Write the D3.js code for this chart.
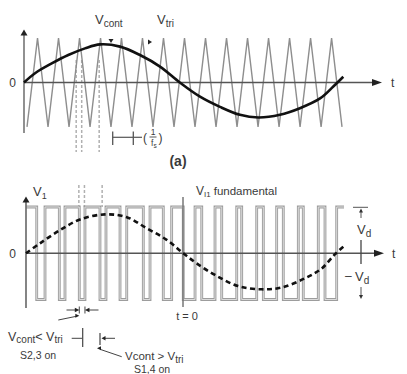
<!DOCTYPE html>
<html><head><meta charset="utf-8">
<script src="https://cdn.jsdelivr.net/npm/d3@7"></script>
<style>
body{margin:0;background:#fff}
svg{display:block}
text{font-family:"Liberation Sans",Arial,Helvetica,sans-serif;fill:#3a3a3a}
</style>
</head><body>
<script>
// ---------- data (angles in degrees of the fundamental) ----------
// triangular carrier vertices (top panel)
const carrierT = [3.5,15.7,27.9,40.1,52.3,64.5,76.7,88.9,101.0,113.2,125.4,137.6,149.8,162.0,174.2,186.4,198.6,210.8,223.0,235.2,247.4,259.6,271.8,284.0,296.2,308.4,320.6,332.8,345.0,357.2,369.3];
const carrierV = [-1,1,-1,1,-1,1,-1,1,-1,1,-1,1,-1,1,-1,1,-1,1,-1,1,-1,1,-1,1,-1,1,-1,1,-1,1,-1];
// control signal (top panel)
const controlT = [0,12.8,32.2,51.4,70.8,88.3,111.5,134.7,157.9,181,204.4,227.6,250.8,272.1,297.2,320.4,343.8,359.2,370.8];
const controlV = [0,0.21,0.43,0.62,0.77,0.86,0.81,0.62,0.36,0,-0.32,-0.55,-0.73,-0.79,-0.73,-0.58,-0.36,-0.09,0.13];
// fundamental of the output (bottom panel)
const fundT = [0,16.1,39.0,61.9,90.6,115.5,138.4,161.3,180.3,195.7,216.7,243.1,270.2,293.2,319.9,339.0,354.3,363.8];
const fundV = [0,0.215,0.50,0.73,0.84,0.78,0.54,0.29,0,-0.22,-0.47,-0.71,-0.78,-0.74,-0.54,-0.33,-0.02,0.14];
// switching instants of the PWM output (starts at +Vd)
const pwmEdges = [12.3,21.8,38.2,44.7,61.1,67.6,84.8,91.7,107.8,115.5,134.5,142.2,157.4,167.0,180.3,193.8,201.5,216.7,224.4,241.6,247.3,264.5,272.1,287.4,295.0,312.2,317.9,335.1,342.8,356.2];
const pwmStart = 1;
const pwmEnd = 364.6;
// dashed guide instants
const guideT = [60.6, 67.0, 87.3];
const tZero = 180;

// ---------- setup ----------
const svg = d3.select("body").append("svg").attr("width",407).attr("height",374);
const xTop = d3.scaleLinear().domain([0,360]).range([24,334]);
const yTop = d3.scaleLinear().domain([-1,1]).range([126.8,38.2]);
const xBot = d3.scaleLinear().domain([0,360]).range([26,340]);
const yBot = d3.scaleLinear().domain([-1,1]).range([299.5,207]);

function head(x,y,dir,len,half,color){
  let p;
  if(dir==="up") p=[[x,y],[x-half,y+len],[x+half,y+len]];
  else if(dir==="down") p=[[x,y],[x-half,y-len],[x+half,y-len]];
  else if(dir==="right") p=[[x,y],[x-len,y-half],[x-len,y+half]];
  else p=[[x,y],[x+len,y-half],[x+len,y+half]];
  svg.append("path").attr("d","M"+p.map(d=>d.join(",")).join("L")+"Z").attr("fill",color||"#222");
}
function line(x1,y1,x2,y2,color,w,dash){
  const l=svg.append("line").attr("x1",x1).attr("y1",y1).attr("x2",x2).attr("y2",y2)
    .attr("stroke",color||"#333").attr("stroke-width",w||1);
  if(dash) l.attr("stroke-dasharray",dash);
  return l;
}
function sub(x,y,main,s,size,ssize,anchor){
  const t=svg.append("text").attr("x",x).attr("y",y).attr("font-size",size);
  if(anchor) t.attr("text-anchor",anchor);
  t.append("tspan").text(main);
  t.append("tspan").attr("font-size",ssize).attr("dy",2.5).text(s);
  return t;
}

// ---------- top panel (a) ----------
// guide dashed lines
guideT.forEach(t=>line(xTop(t),60,xTop(t),152,"#b0b0b0",1.5,"3,2"));
// carrier
svg.append("path")
  .attr("d", d3.line().x((d,i)=>xTop(carrierT[i])).y((d,i)=>yTop(carrierV[i]))(carrierT))
  .attr("fill","none").attr("stroke","#8e8e8e").attr("stroke-width",1.4);
// axes
line(24,35,24,133,"#555",1.3);
head(24,29.5,"up",6,3.5,"#222");
line(24,82.5,373,82.5,"#555",1.3);
head(382,82.5,"right",10,3.5,"#222");
// control signal
svg.append("path")
  .attr("d", d3.line().curve(d3.curveCatmullRom.alpha(0.5)).x((d,i)=>xTop(controlT[i])).y((d,i)=>yTop(controlV[i]))(controlT))
  .attr("fill","none").attr("stroke","#111").attr("stroke-width",2.6);
// labels
svg.append("text").attr("x",12.5).attr("y",87).attr("font-size",12).attr("text-anchor","middle").text("0");
svg.append("text").attr("x",391).attr("y",86.5).attr("font-size",12).text("t");
sub(95,24,"V","cont",13,10);
sub(157,24,"V","tri",13,10);
head(111,43,"down",4,2.5,"#222");
head(152,42,"right",4,2.5,"#222");
// 1/fs bar
line(112.7,131.5,112.7,145,"#555",1.3);
line(133.3,131.5,133.3,145,"#555",1.3);
line(112.7,137.3,142,137.3,"#555",1.2);
svg.append("text").attr("x",143).attr("y",142).attr("font-size",12).text("(");
svg.append("text").attr("x",153).attr("y",135).attr("font-size",8.5).attr("text-anchor","middle").text("1");
line(149.5,137,156.5,137,"#444",0.9);
const fs = svg.append("text").attr("x",151).attr("y",145.5).attr("font-size",8.5);
fs.append("tspan").text("f");
fs.append("tspan").attr("font-size",6.5).attr("dy",2).text("s");
svg.append("text").attr("x",158.5).attr("y",142).attr("font-size",12).text(")");
svg.append("text").attr("x",178).attr("y",166).attr("font-size",14).attr("font-weight","bold")
  .attr("text-anchor","middle").text("(a)");

// ---------- bottom panel ----------
guideT.forEach(t=>line(xBot(t),185,xBot(t),207,"#b0b0b0",1.5,"3,2"));
// pwm waveform
const pts=[[0,pwmStart]]; let lev=pwmStart;
pwmEdges.forEach(e=>{pts.push([e,lev]); lev=-lev; pts.push([e,lev]);});
pts.push([pwmEnd,lev]);
const pwmLine = d3.line().x(d=>xBot(d[0])).y(d=>yBot(d[1]));
svg.append("path").attr("d",pwmLine(pts)).attr("fill","none").attr("stroke","#9d9d9d").attr("stroke-width",2.8);
svg.append("path").attr("d",pwmLine(pts)).attr("fill","none").attr("stroke","#e2e2e2").attr("stroke-width",0.9);
// axes
line(26,202,26,308,"#666",1.6);
head(26,196.5,"up",6,3.5,"#222");
line(26,253.3,375,253.3,"#555",1.5);
head(384,253.3,"right",10,3.5,"#222");
// t=0 line
line(xBot(tZero),197,xBot(tZero),307,"#777",1.5);
// fundamental
svg.append("path")
  .attr("d", d3.line().curve(d3.curveCatmullRom.alpha(0.5)).x((d,i)=>xBot(fundT[i])).y((d,i)=>yBot(fundV[i]))(fundT))
  .attr("fill","none").attr("stroke","#111").attr("stroke-width",2.6).attr("stroke-dasharray","5,3.5");
// labels
svg.append("text").attr("x",12.5).attr("y",258).attr("font-size",12).attr("text-anchor","middle").text("0");
svg.append("text").attr("x",392).attr("y",257.5).attr("font-size",12).text("t");
sub(33,196,"V","1",13,9);
const vf = svg.append("text").attr("x",196).attr("y",195).attr("font-size",12);
vf.append("tspan").text("V");
vf.append("tspan").attr("font-size",8).attr("dy",2).text("I1");
vf.append("tspan").attr("font-size",11.5).attr("dy",-2).attr("dx",3).text("fundamental");
// Vd annotation
line(353,207.3,368,207.3,"#555",1);
line(361,210,361,218,"#555",1);
head(361,208.5,"up",4,2,"#333");
sub(357,234,"V","d",13,10);
line(361,240,361,264,"#444",1.3);
svg.append("text").attr("x",345).attr("y",280).attr("font-size",12).text("–");
sub(355,281,"V","d",13,10);
line(361,287,361,295,"#555",1);
head(361,299,"down",4,2,"#333");
// pulse width annotation
const e0 = xBot(pwmEdges[4]), e1 = xBot(pwmEdges[5]);
line(e0,306.5,e0,313.5,"#444",1);
line(e1,306.5,e1,313.5,"#444",1);
line(66.5,310,e0-4,310,"#444",1);
head(e0,310,"right",4.5,2.2,"#222");
line(98.5,310,e1+4,310,"#444",1);
head(e1,310,"left",4.5,2.2,"#222");
line(58.3,320,e0-3,316.3,"#444",1);
head(e0,315.7,"right",4,2,"#222");
line(71.7,338.3,82,338.3,"#444",1);
line(82.7,328,82.7,347,"#444",1.2);
line(100,333,100,345,"#444",1.2);
line(115,338.3,104.5,338.3,"#444",1);
head(101.5,338.3,"left",4,2.2,"#222");
line(100,349.3,121.7,356.7,"#444",1);
head(97,348.3,"left",4,2,"#222");
// texts
const t1 = svg.append("text").attr("x",8).attr("y",341).attr("font-size",12.5);
t1.append("tspan").text("V");
t1.append("tspan").attr("font-size",10).attr("dy",2).text("cont");
t1.append("tspan").attr("dy",-2).text("< V");
t1.append("tspan").attr("font-size",10).attr("dy",2).text("tri");
svg.append("text").attr("x",20).attr("y",359).attr("font-size",10.5).text("S2,3 on");
const t2 = svg.append("text").attr("x",125).attr("y",360).attr("font-size",11.5);
t2.append("tspan").text("Vcont > V");
t2.append("tspan").attr("font-size",10).attr("dy",2.5).text("tri");
svg.append("text").attr("x",134).attr("y",373).attr("font-size",10.5).text("S1,4 on");
svg.append("text").attr("x",187).attr("y",320).attr("font-size",11).attr("text-anchor","middle").text("t = 0");
</script>
</body></html>
